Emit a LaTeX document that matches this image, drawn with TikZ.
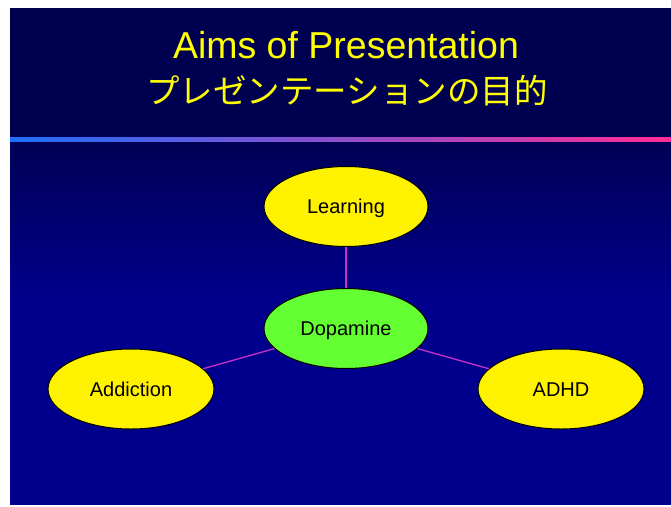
\documentclass[tikz,border=0pt]{standalone}
\usepackage{fontspec}
\setmainfont{Liberation Sans}
\newfontfamily\jpfont{Noto Sans CJK JP}
\usetikzlibrary{shapes.geometric}
\definecolor{headbg}{RGB}{0,0,80}
\definecolor{bgtop}{RGB}{0,0,85}
\definecolor{bgbot}{RGB}{0,0,140}
\definecolor{lineblue}{RGB}{30,110,255}
\definecolor{linepurple}{RGB}{160,90,210}
\definecolor{linepink}{RGB}{255,45,150}
\definecolor{linkcol}{RGB}{200,50,200}
\definecolor{dopgreen}{RGB}{100,255,50}
\definecolor{titleyellow}{RGB}{255,255,0}
\begin{document}
\begin{tikzpicture}[x=1pt,y=-1pt,
  aim/.style={shape=ellipse,draw=black,line width=1pt,fill=yellow,minimum width=164pt,minimum height=80pt,inner sep=0pt,text height=14.4pt,text depth=0pt,font=\fontsize{20}{23}\selectfont},
  link/.style={draw=linkcol,line width=1.3pt}]
\useasboundingbox (0,0) rectangle (671,506);
\fill[white] (0,0) rectangle (671,506);
\fill[headbg] (10,8) rectangle (671,141);
\fill[top color=bgtop,bottom color=bgbot] (10,141) rectangle (671,300);
\fill[bgbot] (10,299) rectangle (671,505);
\fill[left color=lineblue,middle color=linepurple,right color=linepink] (10,137) rectangle (671,141);
\node[anchor=base,text=titleyellow,font=\fontsize{37.5}{42}\selectfont] (title) at (346,58) {Aims of Presentation};
\node[anchor=base,text=titleyellow,font=\jpfont\fontsize{33.5}{38}\selectfont] (subtitle) at (347,103) {プレゼンテーションの目的};
\node[aim] (learn) at (346,206.5) {Learning};
\node[aim,fill=dopgreen] (dop) at (346,328.5) {Dopamine};
\node[aim,minimum width=166pt] (addict) at (131,389) {Addiction};
\node[aim,minimum width=166pt] (adhd) at (561,389) {ADHD};
\draw[link] (dop) -- (learn);
\draw[link] (dop) -- (addict);
\draw[link] (dop) -- (adhd);
\end{tikzpicture}
\end{document}
